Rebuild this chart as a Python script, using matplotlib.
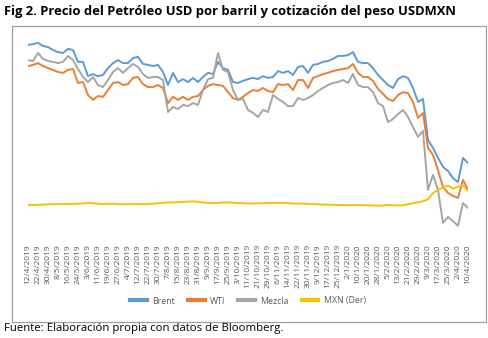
import matplotlib
matplotlib.use("Agg")
import matplotlib.pyplot as plt
from matplotlib.patches import Rectangle
from matplotlib.lines import Line2D

# ---- Data (sampled every 3 trading days, 12/4/2019 .. 10/4/2020) ----
brent = [71.5, 71.8, 72.2, 71.2, 70.8, 69.8, 69.1, 68.8, 70.2, 69.8,
         65.8, 65.8, 61.0, 61.7, 61.0, 61.4, 63.7, 65.4, 66.4, 65.4,
         65.4, 67.1, 67.5, 65.1, 64.8, 64.4, 64.8, 62.4, 58.0, 62.1,
         59.0, 60.0, 59.0, 60.4, 59.0, 60.7, 62.1, 61.7, 65.8, 63.7,
         63.1, 59.0, 58.7, 59.4, 60.0, 60.4, 60.0, 61.0, 60.4, 60.7,
         62.7, 62.1, 62.7, 61.4, 64.1, 64.4, 62.1, 64.8, 65.1, 65.8,
         66.1, 66.8, 67.8, 67.8, 68.1, 69.1, 65.8, 65.4, 65.4, 63.7,
         61.4, 59.7, 58.0, 57.0, 60.0, 61.0, 60.4, 57.0, 52.3, 53.3,
         39.5, 36.8, 33.4, 30.4, 29.0, 26.6, 25.3, 33.4, 31.7]
wti = [64.4, 64.8, 65.4, 64.4, 63.7, 63.1, 62.4, 62.1, 63.1, 63.4,
       58.7, 59.0, 54.6, 53.0, 54.3, 54.0, 56.3, 58.7, 59.0, 58.0,
       58.3, 60.4, 60.7, 58.3, 57.3, 57.3, 58.0, 57.0, 51.9, 54.0,
       53.0, 54.0, 53.0, 54.0, 54.3, 56.3, 57.7, 58.3, 58.0, 57.7,
       55.6, 53.6, 53.0, 54.0, 55.3, 56.3, 56.0, 57.0, 56.0, 55.6,
       58.3, 58.0, 58.3, 56.3, 59.7, 59.7, 57.0, 60.4, 61.0, 61.7,
       62.1, 62.7, 63.1, 63.4, 63.7, 65.1, 62.1, 60.7, 60.7, 59.4,
       56.7, 55.0, 53.3, 52.6, 54.6, 55.6, 55.3, 52.3, 46.9, 48.6,
       36.8, 34.4, 29.3, 23.6, 21.6, 20.6, 19.9, 26.0, 22.6]
mezcla = [66.4, 66.1, 68.8, 66.8, 66.1, 65.8, 65.4, 65.8, 67.8, 66.4,
          63.4, 60.7, 59.0, 60.7, 58.0, 57.3, 59.7, 62.4, 63.7, 62.1,
          63.7, 65.1, 64.1, 61.7, 60.4, 60.7, 60.7, 59.7, 48.9, 50.6,
          49.9, 51.3, 50.9, 51.9, 51.3, 56.3, 60.0, 60.4, 68.8, 63.1,
          62.4, 56.3, 53.0, 53.3, 49.6, 48.6, 47.2, 49.6, 48.9, 54.6,
          53.3, 52.3, 50.9, 50.9, 53.6, 53.0, 53.6, 54.6, 56.0, 57.0,
          58.0, 58.7, 59.0, 59.7, 58.7, 61.7, 58.0, 57.3, 57.3, 55.6,
          51.9, 50.9, 45.5, 46.5, 48.2, 49.6, 47.2, 43.8, 40.5, 42.5,
          22.6, 27.7, 22.6, 11.5, 13.5, 12.1, 10.5, 18.2, 16.5]
mxn = [18.85, 18.85, 18.9, 18.95, 19.05, 19.1, 19.1, 19.15, 19.15, 19.2,
       19.25, 19.3, 19.55, 19.4, 19.2, 19.15, 19.2, 19.2, 19.1, 19.05,
       19.1, 19.15, 19.1, 19.1, 19.15, 19.25, 19.4, 19.5, 19.6, 19.65,
       19.7, 19.8, 19.9, 19.95, 19.85, 19.6, 19.5, 19.45, 19.5, 19.6,
       19.65, 19.55, 19.45, 19.4, 19.3, 19.35, 19.35, 19.4, 19.45, 19.5,
       19.5, 19.45, 19.4, 19.3, 19.3, 19.25, 19.2, 19.1, 19.05, 18.95,
       18.95, 18.9, 18.85, 18.85, 18.8, 18.8, 18.85, 18.8, 18.75, 18.7,
       18.65, 18.7, 18.85, 18.75, 18.7, 18.8, 19.05, 19.4, 19.7, 20.0,
       20.6, 22.5, 23.5, 24.3, 24.8, 23.9, 24.5, 24.8, 23.2]

tick_labels = ["12/4/2019", "22/4/2019", "30/4/2019", "8/5/2019", "16/5/2019",
               "24/5/2019", "3/6/2019", "11/6/2019", "19/6/2019", "27/6/2019",
               "4/7/2019", "12/7/2019", "22/7/2019", "30/7/2019", "7/8/2019",
               "15/8/2019", "23/8/2019", "31/8/2019", "9/9/2019", "17/9/2019",
               "25/9/2019", "3/10/2019", "11/10/2019", "21/10/2019", "29/10/2019",
               "6/11/2019", "14/11/2019", "22/11/2019", "30/11/2019", "9/12/2019",
               "17/12/2019", "25/12/2019", "2/1/2020", "10/1/2020", "20/1/2020",
               "28/1/2020", "5/2/2020", "13/2/2020", "21/2/2020", "29/2/2020",
               "9/3/2020", "17/3/2020", "25/3/2020", "2/4/2020", "10/4/2020"]

series_names = ["Brent", "WTI", "Mezcla", "MXN (Der)"]
colors = ["#5B9BD5", "#ED7D31", "#A5A5A5", "#FFC000"]

W, H = 489, 338
fig = plt.figure(figsize=(W / 100, H / 100), dpi=100)
fig.patch.set_facecolor("white")

# chart border
fig.patches.append(Rectangle((12 / W, 1 - 322 / H), (486 - 12) / W, (322 - 26) / H,
                             transform=fig.transFigure, fill=False,
                             edgecolor="#a0a0a0", linewidth=0.9))

ax = fig.add_axes([28 / W, 1 - 233 / H, 440 / W, 198 / H])
ax2 = ax.twinx()
x = list(range(len(brent)))
lw = 1.4
ax.plot(x, brent, color=colors[0], lw=lw)
ax.plot(x, wti, color=colors[1], lw=lw)
ax.plot(x, mezcla, color=colors[2], lw=lw)
ax2.plot(x, mxn, color=colors[3], lw=lw)

ax.set_xlim(0, len(brent) - 1)
ax.set_ylim(8.09, 74.87)
ax2.set_ylim(10.23, 71.15)

for a in (ax, ax2):
    for s in a.spines.values():
        s.set_visible(False)
    a.set_yticks([])
    a.patch.set_visible(False)

ax.set_xticks(range(0, len(brent), 2))
ax.set_xticklabels(tick_labels, rotation=90, fontsize=6, color="#595959",
                   family="Open Sans", va="top", ha="center")
ax.tick_params(axis="x", length=0, pad=8)

# legend
handles = [Line2D([], [], color=c, lw=3) for c in colors]
fig.legend(handles, series_names, loc="center", ncol=4,
           bbox_to_anchor=(248 / W, 1 - 301 / H), frameon=False,
           prop={"family": "Open Sans", "size": 6.3}, labelcolor="#595959",
           handlelength=1.9, handletextpad=0.6, columnspacing=1.5)

fig.text(4 / W, 1 - 12 / H,
         "Fig 2. Precio del Petróleo USD por barril y cotización del peso USDMXN",
         fontsize=9.4, fontweight="bold", family="Open Sans", va="center",
         ha="left", color="black")
fig.text(4 / W, 1 - 328 / H, "Fuente: Elaboración propia con datos de Bloomberg.",
         fontsize=8.2, family="Open Sans", va="center", ha="left", color="black")

fig.savefig("out.png", dpi=100, facecolor="white")
